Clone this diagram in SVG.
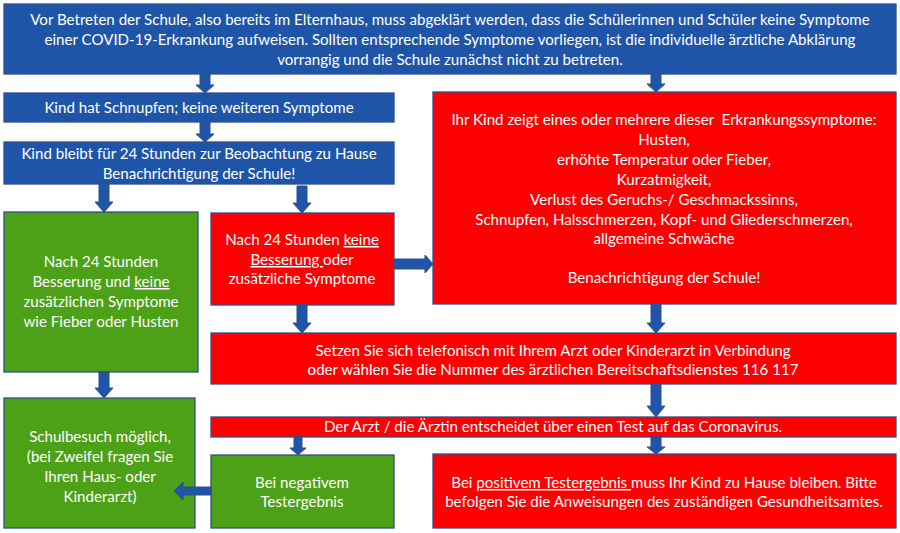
<svg xmlns="http://www.w3.org/2000/svg" width="900" height="533" viewBox="0 0 900 533">
<style>
.blue{fill:#1F55A8;stroke:#2F4F8A;stroke-width:1.3}
.red{fill:#FF0000;stroke:#2F4F8A;stroke-width:1.3}
.green{fill:#4CA116;stroke:#2F4F8A;stroke-width:1.3}
.arr{fill:#1F55A8;stroke:#2F4F8A;stroke-width:1}
text{font-family:Lato,"Open Sans","Liberation Sans",sans-serif;font-size:15.1px;fill:#fff;text-anchor:middle}
.u{text-decoration:underline}
</style>
<rect width="900" height="533" fill="#fff"/>
<g id="top">
<rect class="blue" x="4" y="4" width="892" height="70"/>
<text x="450" y="25">Vor Betreten der Schule, also bereits im Elternhaus, muss abgeklärt werden, dass die Schülerinnen und Schüler keine Symptome</text>
<text x="450" y="45">einer COVID-19-Erkrankung aufweisen. Sollten entsprechende Symptome vorliegen, ist die individuelle ärztliche Abklärung</text>
<text x="450" y="65">vorrangig und die Schule zunächst nicht zu betreten.</text>
</g>
<g id="schnupfen">
<rect class="blue" x="4" y="93" width="390" height="29"/>
<text x="199" y="113">Kind hat Schnupfen; keine weiteren Symptome</text>
</g>
<g id="beobachtung">
<rect class="blue" x="4" y="142" width="390" height="42"/>
<text x="199" y="159">Kind bleibt für 24 Stunden zur Beobachtung zu Hause</text>
<text x="199" y="179">Benachrichtigung der Schule!</text>
</g>
<g id="besserung">
<rect class="green" x="4" y="212" width="194" height="160"/>
<text x="101" y="267">Nach 24 Stunden</text>
<text x="101" y="287">Besserung und <tspan class="u">keine</tspan></text>
<text x="101" y="307">zusätzlichen Symptome</text>
<text x="101" y="327">wie Fieber oder Husten</text>
</g>
<g id="keinebesserung">
<rect class="red" x="211" y="213" width="183" height="92"/>
<text x="302" y="245">Nach 24 Stunden <tspan class="u">keine</tspan></text>
<text x="302" y="265"><tspan class="u">Besserung </tspan>oder</text>
<text x="302" y="284">zusätzliche Symptome</text>
</g>
<g id="symptome">
<rect class="red" x="433" y="92" width="463" height="212"/>
<text x="664" y="125" xml:space="preserve">Ihr Kind zeigt eines oder mehrere dieser  Erkrankungssymptome:</text>
<text x="664" y="145">Husten,</text>
<text x="664" y="165">erhöhte Temperatur oder Fieber,</text>
<text x="664" y="185">Kurzatmigkeit,</text>
<text x="664" y="205">Verlust des Geruchs-/ Geschmackssinns,</text>
<text x="664" y="225">Schnupfen, Halsschmerzen, Kopf- und Gliederschmerzen,</text>
<text x="664" y="244">allgemeine Schwäche</text>
<text x="664" y="283">Benachrichtigung der Schule!</text>
</g>
<g id="arzt">
<rect class="red" x="211" y="333" width="685" height="51"/>
<text x="553" y="356">Setzen Sie sich telefonisch mit Ihrem Arzt oder Kinderarzt in Verbindung</text>
<text x="553" y="375">oder wählen Sie die Nummer des ärztlichen Bereitschaftsdienstes 116 117</text>
</g>
<g id="test">
<rect class="red" x="211" y="417" width="685" height="20"/>
<text x="553" y="432">Der Arzt / die Ärztin entscheidet über einen Test auf das Coronavirus.</text>
</g>
<g id="schulbesuch">
<rect class="green" x="4" y="398" width="191" height="130"/>
<text x="100" y="442">Schulbesuch möglich,</text>
<text x="100" y="462">(bei Zweifel fragen Sie</text>
<text x="100" y="482">Ihren Haus- oder</text>
<text x="100" y="502">Kinderarzt)</text>
</g>
<g id="negativ">
<rect class="green" x="211" y="455" width="183" height="73"/>
<text x="302" y="488">Bei negativem</text>
<text x="302" y="507">Testergebnis</text>
</g>
<g id="positiv">
<rect class="red" x="433" y="454" width="463" height="74"/>
<text x="664" y="488">Bei <tspan class="u">positivem Testergebnis </tspan>muss Ihr Kind zu Hause bleiben. Bitte</text>
<text x="664" y="507">befolgen Sie die Anweisungen des zuständigen Gesundheitsamtes.</text>
</g>
<g id="connectors">
<polygon class="arr" points="200,74 210,74 210,85 214,85 205,93 196,85 200,85"/>
<polygon class="arr" points="200,122 210,122 210,134 214,134 205,142 196,134 200,134"/>
<polygon class="arr" points="651,74 661,74 661,84 665,84 656,92 647,84 651,84"/>
<polygon class="arr" points="99,184 109,184 109,202 113,202 104,212 95,202 99,202"/>
<polygon class="arr" points="297,186 307,186 307,203 311,203 302,213 293,203 297,203"/>
<polygon class="arr" points="394,259 425,259 425,255 433,264 425,273 425,269 394,269"/>
<polygon class="arr" points="99,372 109,372 109,388 113,388 104,398 95,388 99,388"/>
<polygon class="arr" points="297,305 307,305 307,323 311,323 302,333 293,323 297,323"/>
<polygon class="arr" points="651,304 661,304 661,323 665,323 656,333 647,323 651,323"/>
<polygon class="arr" points="651,384 661,384 661,406 665,406 656,417 647,406 651,406"/>
<polygon class="arr" points="294,437 302,437 302,448 306,448 298,455 290,448 294,448"/>
<polygon class="arr" points="651,437 661,437 661,447 665,447 656,454 647,447 651,447"/>
<polygon class="arr" points="211,487 183,487 183,482 174,491 183,500 183,495 211,495"/>
</g>
</svg>
